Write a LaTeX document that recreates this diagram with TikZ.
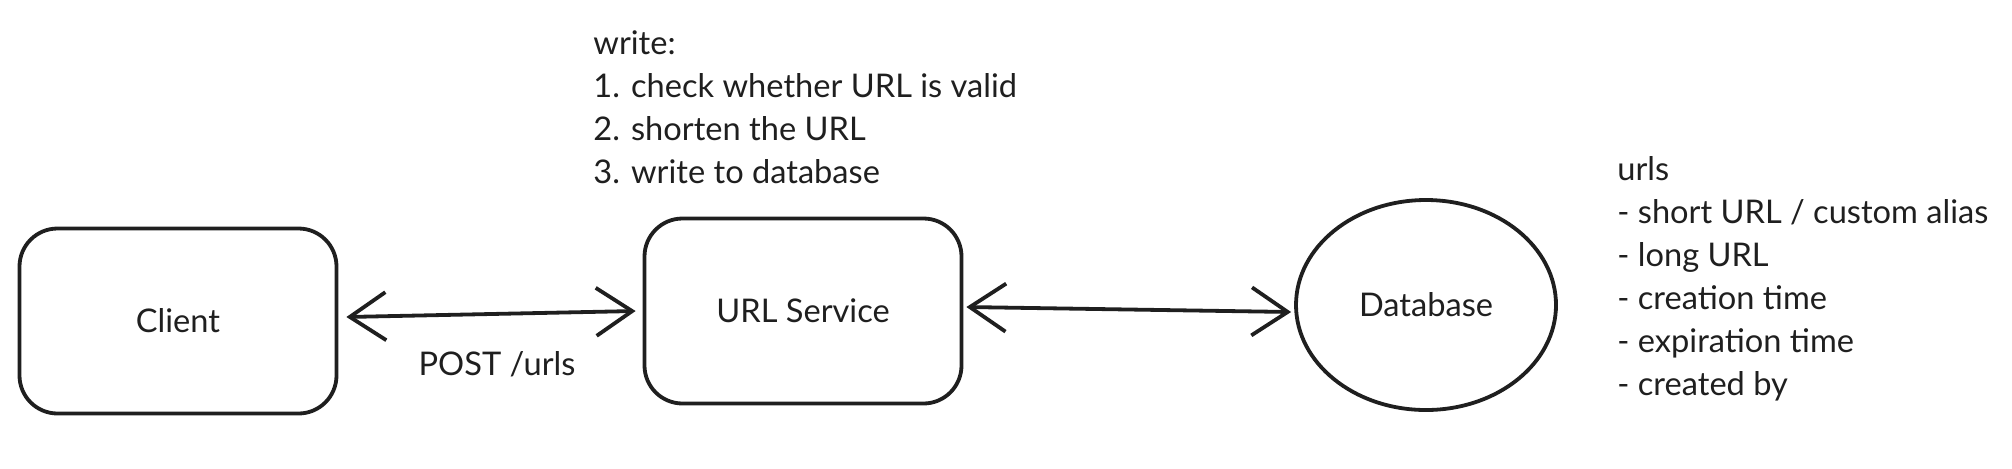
\documentclass[tikz,border=0pt]{standalone}
\usepackage{fontspec}
\setmainfont{Lato}
\usetikzlibrary{arrows.meta,shapes.geometric}
\begin{document}
\begin{tikzpicture}[x=0.5pt,y=-0.5pt,
  txt/.style={font=\fontsize{16.3}{21.5}\selectfont, inner sep=0pt, text=black!88},
  box/.style={draw=black!88, line width=1.9pt, rounded corners=19pt, minimum width=158.5pt, minimum height=92.5pt, txt},
  dbnode/.style={draw=black!88, ellipse, line width=1.9pt, minimum width=130pt, minimum height=105pt, inner sep=0pt, txt},
  tipb/.tip={Straight Barb[length=18pt,width=24pt,line width=1.9pt]},
  link/.style={draw=black!88, line width=1.9pt, tipb-tipb}
]
\useasboundingbox (0,0) rectangle (2012,468);
\node[box] (client) at (178,321) {Client};
\node[box] (url) at (803,311) {URL Service};
\node[dbnode] (db) at (1426,305) {Database};
\draw[link] ([xshift=4pt,yshift=2pt]client.east) -- ([xshift=-3.5pt]url.west);
\draw[link] ([xshift=1.5pt,yshift=2pt]url.east) -- ([xshift=-1.5pt,yshift=-3.5pt]db.west);
\node[txt] (post) at (497,364) {POST /urls};
\node[txt, align=left, anchor=west] (write) at (593,107) {write:\\1. check whether URL is valid\\2. shorten the URL\\3. write to database};
\node[txt, align=left, anchor=west] (urls) at (1617,278.5) {urls\\- short URL / custom alias\\- long URL\\- creation time\\- expiration time\\- created by};
\end{tikzpicture}
\end{document}
